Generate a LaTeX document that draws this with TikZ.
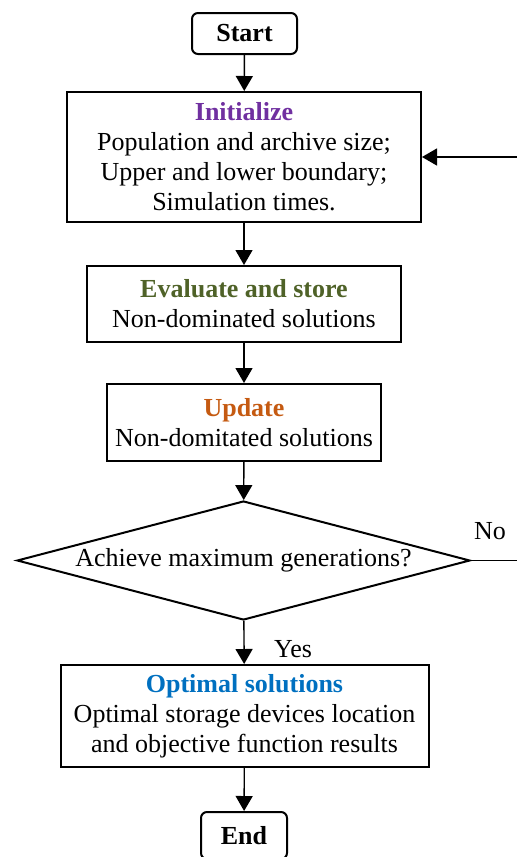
\documentclass[tikz,border=0pt]{standalone}
\usepackage{fontspec}
\setmainfont{Liberation Serif}
\usetikzlibrary{arrows.meta,shapes.geometric}
\definecolor{initcol}{HTML}{7030A0}
\definecolor{evalcol}{HTML}{4F6228}
\definecolor{updcol}{HTML}{C55A11}
\definecolor{optcol}{HTML}{0070C0}
\tikzset{
    box/.style={draw, line width=1pt, inner sep=3pt, align=center,
                font=\fontsize{13}{15}\selectfont},
    terminal/.style={box, rounded corners=3pt,
                     font=\fontsize{13}{15}\selectfont\bfseries},
    flow/.style={-{Triangle[length=7.5pt,width=8.5pt]}, line width=0.7pt},
    choice/.style={diamond, draw, line width=1pt, inner sep=0pt,
                   aspect=3.8, minimum width=226.5pt, minimum height=59.5pt,
                   font=\fontsize{13}{15}\selectfont},
    note/.style={font=\fontsize{13}{15}\selectfont},
}

\begin{document}
\begin{tikzpicture}[x=0.5pt, y=-0.5pt]

    \useasboundingbox (0,0) rectangle (516,857);

    \node[terminal, minimum width=52.5pt, minimum height=20.5pt] (start) at (244.5,33.5) {Start};
    \node[box, minimum width=177pt, minimum height=65pt] (init) at (244,157) {
        \textcolor{initcol}{\textbf{Initialize}}\\
        Population and archive size;\\
        Upper and lower boundary;\\
        Simulation times.};
    \node[box, minimum width=157pt, minimum height=38pt] (eval) at (244,304) {
        \textcolor{evalcol}{\textbf{Evaluate and store}}\\
        Non-dominated solutions};
    \node[box, minimum width=137pt, minimum height=38.5pt] (update) at (244,422.5) {
        \textcolor{updcol}{\textbf{Update}}\\
        Non-domitated solutions};
    \node[choice] (test) at (243.5,560.5) {Achieve maximum generations?};
    \node[box, minimum width=184pt, minimum height=51pt] (optimal) at (244.5,716) {
        \textcolor{optcol}{\textbf{Optimal solutions}}\\
        Optimal storage devices location\\
        and objective function results};
    \node[terminal, minimum width=43pt, minimum height=23.5pt] (end) at (244,835.5) {End};

    \coordinate (fbr) at (518,560.5);

    \draw[flow] (start) -- (init);
    \draw[flow] (init) -- (eval);
    \draw[flow] (eval) -- (update);
    \draw[flow] (update) -- (test);
    \draw[flow] (test) -- (optimal);
    \draw[flow] (optimal) -- (end);
    \draw[flow] (test.east) -- (fbr) |- (init.east);

    \node[note] (no) at (490,531) {No};
    \node[note] (yes) at (293,649) {Yes};

\end{tikzpicture}
\end{document}
